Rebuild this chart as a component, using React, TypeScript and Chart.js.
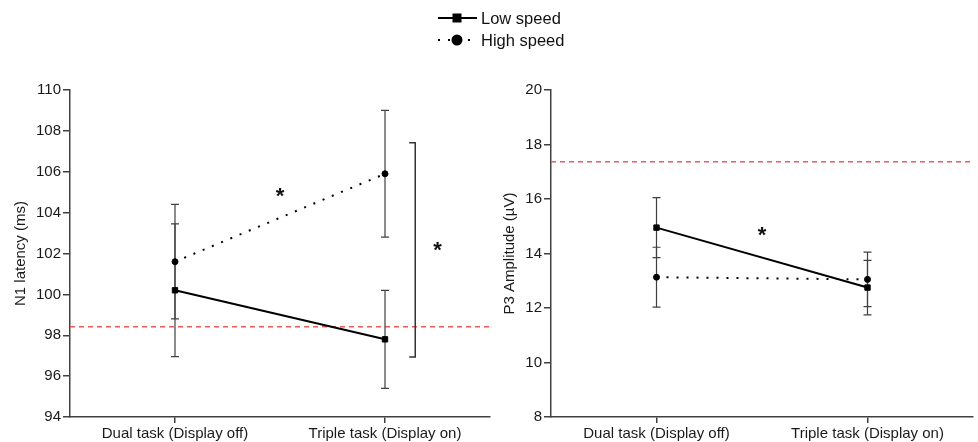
import React, { useEffect, useRef } from "react";
import { Chart, registerables } from "chart.js";

Chart.register(...registerables);

// ---------- data ----------
const categories = ["Dual task (Display off)", "Triple task (Display on)"];
const seriesNames = ["Low speed", "High speed"];

// N1 latency (ms)
const n1Low = [100.2, 97.8];
const n1LowErr = [3.25, 2.4];
const n1High = [101.6, 105.9];
const n1HighErr = [2.8, 3.1];
const n1Baseline = 98.42;
const n1Stars = [
  { x: 0.5, y: 104.95 },
  { x: 1.25, y: 102.3 },
];
const n1Bracket = { x: 1.144, y1: 107.42, y2: 96.94 };

// P3 amplitude (µV)
const p3Low = [14.95, 12.75];
const p3LowErr = [1.1, 1.0];
const p3High = [13.13, 13.05];
const p3HighErr = [1.1, 1.0];
const p3Baseline = 17.37;
const p3Stars = [{ x: 0.5, y: 14.8 }];

const FONT = "'Liberation Sans', Arial, Helvetica, sans-serif";
const AXIS = "#404040";
const TEXT = "#1a1a1a";

type Panel = {
  low: number[];
  lowErr: number[];
  high: number[];
  highErr: number[];
  baseline: number;
  yMin: number;
  yMax: number;
  yStep: number;
  yTitle: string;
  yTitlePad: number;
  yWidth: number;
  padRight: number;
  stars: { x: number; y: number }[];
  bracket?: { x: number; y1: number; y2: number };
};

function makeChart(canvas: HTMLCanvasElement, p: Panel) {
  const overlay = {
    id: "overlay",
    beforeDatasetsDraw(chart: any) {
      const ctx = chart.ctx;
      const xs = chart.scales.x;
      const ys = chart.scales.y;
      const area = chart.chartArea;
      ctx.save();
      // baseline
      ctx.strokeStyle = "#f05a5a";
      ctx.lineWidth = 1.5;
      ctx.setLineDash([5, 4]);
      const by = ys.getPixelForValue(p.baseline);
      ctx.beginPath();
      ctx.moveTo(area.left, by);
      ctx.lineTo(area.right, by);
      ctx.stroke();
      ctx.setLineDash([]);
      // error bars
      ctx.strokeStyle = AXIS;
      ctx.lineWidth = 1.2;
      const sets: [number[], number[]][] = [
        [p.low, p.lowErr],
        [p.high, p.highErr],
      ];
      sets.forEach(([vals, errs]) => {
        vals.forEach((v, i) => {
          const x = xs.getPixelForValue(i);
          const yt = ys.getPixelForValue(v + errs[i]);
          const yb = ys.getPixelForValue(v - errs[i]);
          ctx.beginPath();
          ctx.moveTo(x, yt);
          ctx.lineTo(x, yb);
          ctx.moveTo(x - 4, yt);
          ctx.lineTo(x + 4, yt);
          ctx.moveTo(x - 4, yb);
          ctx.lineTo(x + 4, yb);
          ctx.stroke();
        });
      });
      ctx.restore();
    },
    afterDatasetsDraw(chart: any) {
      const ctx = chart.ctx;
      const xs = chart.scales.x;
      const ys = chart.scales.y;
      ctx.save();
      if (p.bracket) {
        const bx = xs.getPixelForValue(p.bracket.x);
        const y1 = ys.getPixelForValue(p.bracket.y1);
        const y2 = ys.getPixelForValue(p.bracket.y2);
        ctx.strokeStyle = "#333333";
        ctx.lineWidth = 1.5;
        ctx.beginPath();
        ctx.moveTo(bx - 6, y1);
        ctx.lineTo(bx, y1);
        ctx.lineTo(bx, y2);
        ctx.lineTo(bx - 6, y2);
        ctx.stroke();
      }
      ctx.fillStyle = "#111111";
      ctx.font = `bold 22px ${FONT}`;
      ctx.textAlign = "center";
      ctx.textBaseline = "middle";
      p.stars.forEach((s) => {
        ctx.fillText("*", xs.getPixelForValue(s.x), ys.getPixelForValue(s.y) + 4);
      });
      ctx.restore();
    },
  };

  return new Chart(canvas, {
    type: "line",
    data: {
      datasets: [
        {
          label: seriesNames[0],
          data: p.low.map((v, i) => ({ x: i, y: v })),
          borderColor: "#000",
          backgroundColor: "#000",
          borderWidth: 2,
          pointStyle: "rect",
          pointRadius: 3.8,
          pointBorderWidth: 1,
          tension: 0,
        },
        {
          label: seriesNames[1],
          data: p.high.map((v, i) => ({ x: i, y: v })),
          borderColor: "#000",
          backgroundColor: "#000",
          borderWidth: 2,
          borderDash: [2, 8],
          pointStyle: "circle",
          pointRadius: 3,
          pointBorderWidth: 1,
          tension: 0,
        },
      ],
    },
    options: {
      animation: false,
      responsive: false,
      maintainAspectRatio: false,
      layout: { padding: { top: 90, right: p.padRight, left: 0, bottom: 0 } },
      plugins: { legend: { display: false }, tooltip: { enabled: false } },
      scales: {
        x: {
          type: "linear",
          min: -0.5,
          max: 1.5,
          afterBuildTicks: (s: any) => {
            s.ticks = [{ value: 0 }, { value: 1 }];
          },
          afterFit: (s: any) => {
            s.height = 25;
          },
          ticks: {
            callback: (v: any) => categories[v],
            font: { family: FONT, size: 15 },
            color: TEXT,
            padding: 2,
            maxRotation: 0,
            autoSkip: false,
          },
          grid: { display: true, drawOnChartArea: false, tickLength: 6, color: AXIS, lineWidth: 1.5 },
          border: { display: true, color: AXIS, width: 1.5 },
        },
        y: {
          type: "linear",
          min: p.yMin,
          max: p.yMax,
          afterFit: (s: any) => {
            s.width = p.yWidth;
          },
          ticks: {
            stepSize: p.yStep,
            font: { family: FONT, size: 15 },
            color: TEXT,
            padding: 2,
          },
          title: {
            display: true,
            text: p.yTitle,
            font: { family: FONT, size: 15 },
            color: TEXT,
            padding: { top: p.yTitlePad, bottom: 0 },
          },
          grid: { display: true, drawOnChartArea: false, tickLength: 7, color: AXIS, lineWidth: 1.5 },
          border: { display: true, color: AXIS, width: 1.5 },
        },
      },
    } as any,
    plugins: [overlay],
  });
}

function PanelChart({ panel, left, width }: { panel: Panel; left: number; width: number }) {
  const ref = useRef<HTMLCanvasElement>(null);
  useEffect(() => {
    if (!ref.current) return;
    const c = makeChart(ref.current, panel);
    return () => c.destroy();
  }, []);
  return (
    <canvas
      ref={ref}
      width={width}
      height={442}
      style={{ position: "absolute", left, top: 0, width, height: 442 }}
    />
  );
}

const leftPanel: Panel = {
  low: n1Low,
  lowErr: n1LowErr,
  high: n1High,
  highErr: n1HighErr,
  baseline: n1Baseline,
  yMin: 94,
  yMax: 110,
  yStep: 2,
  yTitle: "N1 latency (ms)",
  yTitlePad: 12,
  yWidth: 70,
  padRight: 3,
  stars: n1Stars,
  bracket: n1Bracket,
};

const rightPanel: Panel = {
  low: p3Low,
  lowErr: p3LowErr,
  high: p3High,
  highErr: p3HighErr,
  baseline: p3Baseline,
  yMin: 8,
  yMax: 20,
  yStep: 2,
  yTitle: "P3 Amplitude (\u00b5V)",
  yTitlePad: 6,
  yWidth: 56,
  padRight: 5,
  stars: p3Stars,
};

function Legend() {
  const textStyle: React.CSSProperties = {
    position: "absolute",
    left: 481,
    height: 22,
    lineHeight: "22px",
    fontFamily: FONT,
    fontSize: 16.5,
    color: "#111",
    whiteSpace: "nowrap",
  };
  return (
    <>
      <svg style={{ position: "absolute", left: 430, top: 7 }} width={50} height={22}>
        <line x1={8} y1={11} x2={47} y2={11} stroke="#000" strokeWidth={2} />
        <rect x={22.5} y={6.5} width={9} height={9} fill="#000" />
      </svg>
      <div style={{ ...textStyle, top: 7 }}>{seriesNames[0]}</div>
      <svg style={{ position: "absolute", left: 430, top: 29 }} width={50} height={22}>
        <rect x={8} y={10} width={2} height={2} fill="#000" />
        <rect x={18} y={10} width={2} height={2} fill="#000" />
        <circle cx={27} cy={11} r={5.5} fill="#000" />
        <rect x={38} y={10} width={2} height={2} fill="#000" />
      </svg>
      <div style={{ ...textStyle, top: 29 }}>{seriesNames[1]}</div>
    </>
  );
}

export default function App() {
  return (
    <div
      style={{
        position: "fixed",
        left: 0,
        top: 0,
        width: 978,
        height: 442,
        background: "#fff",
        overflow: "hidden",
      }}
    >
      <PanelChart panel={leftPanel} left={0} width={495} />
      <PanelChart panel={rightPanel} left={495} width={483} />
      <Legend />
    </div>
  );
}
